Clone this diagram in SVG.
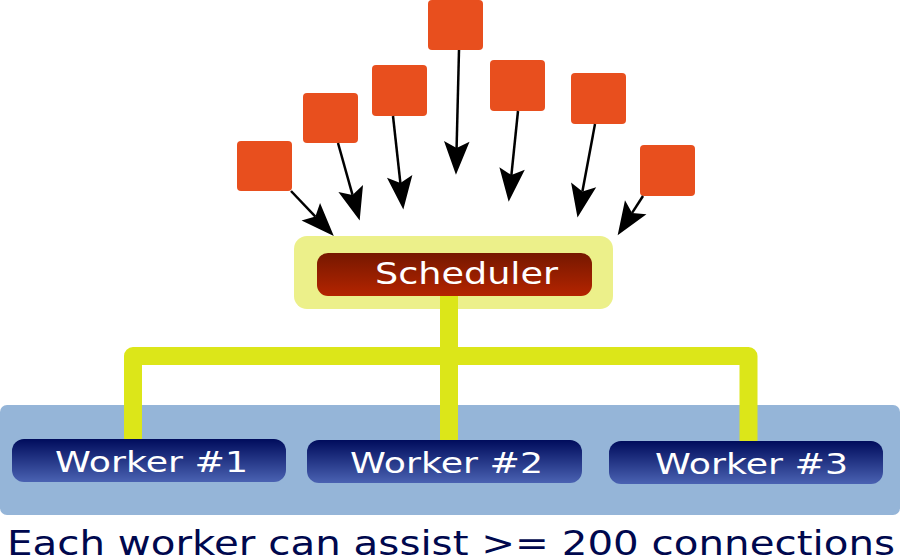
<svg xmlns="http://www.w3.org/2000/svg" width="901" height="559" viewBox="0 0 901 559">
<defs>
<linearGradient id="gSched" x1="0" y1="0" x2="0" y2="1">
<stop offset="0" stop-color="#761800"/>
<stop offset="1" stop-color="#b42400"/>
</linearGradient>
<linearGradient id="gWorker" x1="0" y1="0" x2="0" y2="1">
<stop offset="0" stop-color="#000c5c"/>
<stop offset="1" stop-color="#4a62b2"/>
</linearGradient>
<marker id="ah" markerUnits="userSpaceOnUse" markerWidth="40" markerHeight="30" viewBox="-8 -13 36 26" refX="0" refY="0" orient="auto" overflow="visible">
<path d="M24,0 L-6,-11.5 L0,0 L-6,11.5 Z" fill="#000"/>
</marker>
<style>
.src{fill:#e84f1e;}
.arrow{stroke:#000;stroke-width:2.5;fill:none;marker-end:url(#ah);}
.wire{stroke:#dce619;stroke-width:18;fill:none;stroke-linejoin:round;}
.worker{fill:url(#gWorker);}
.wlabel{font-family:"DejaVu Sans",sans-serif;font-size:29px;fill:#fff;}
</style>
</defs>
<rect id="pool" x="0" y="405" width="900" height="110" rx="7" fill="#95b5d8"/>
<g id="sources">
<rect id="src1" class="src" x="237" y="141" width="55" height="50" rx="4"/>
<rect id="src2" class="src" x="303" y="93" width="55" height="50" rx="4"/>
<rect id="src3" class="src" x="372" y="65" width="55" height="51" rx="4"/>
<rect id="src4" class="src" x="428" y="0" width="55" height="50" rx="4"/>
<rect id="src5" class="src" x="490" y="60" width="55" height="51" rx="4"/>
<rect id="src6" class="src" x="571" y="73" width="55" height="51" rx="4"/>
<rect id="src7" class="src" x="640" y="145" width="55" height="51" rx="4"/>
</g>
<g id="scheduler">
<rect x="294" y="236" width="319" height="73" rx="13" fill="#ecf08a"/>
<rect x="317" y="253" width="275" height="43" rx="11" fill="url(#gSched)"/>
<text x="375" y="284" font-family="DejaVu Sans, sans-serif" font-size="30" fill="#fff" textLength="183" lengthAdjust="spacingAndGlyphs">Scheduler</text>
</g>
<g id="connectors">
<line class="arrow" x1="291" y1="191" x2="315.4" y2="216.6"/>
<line class="arrow" x1="338" y1="143" x2="352.5" y2="194.9"/>
<line class="arrow" x1="393" y1="116" x2="400.4" y2="183.1"/>
<line class="arrow" x1="459" y1="50" x2="456.6" y2="148"/>
<line class="arrow" x1="518" y1="111" x2="511.4" y2="175.1"/>
<line class="arrow" x1="595" y1="124" x2="582.4" y2="191.4"/>
<line class="arrow" x1="643" y1="196" x2="632.1" y2="212.9"/>
<path class="wire" d="M133,440 V356 H748.5 V441"/>
<path class="wire" d="M449,296 V441"/>
</g>
<g id="worker1">
<rect class="worker" x="12" y="439" width="274" height="43" rx="12"/>
<text class="wlabel" x="55" y="472" textLength="193" lengthAdjust="spacingAndGlyphs">Worker #1</text>
</g>
<g id="worker2">
<rect class="worker" x="307" y="440" width="275" height="43" rx="12"/>
<text class="wlabel" x="350" y="473" textLength="193" lengthAdjust="spacingAndGlyphs">Worker #2</text>
</g>
<g id="worker3">
<rect class="worker" x="609" y="441" width="274" height="43" rx="12"/>
<text class="wlabel" x="655" y="474" textLength="193" lengthAdjust="spacingAndGlyphs">Worker #3</text>
</g>
<text id="caption" x="7" y="555" font-family="DejaVu Sans, sans-serif" font-size="34" fill="#00084e" textLength="888" lengthAdjust="spacingAndGlyphs">Each worker can assist &gt;= 200 connections</text>
</svg>
